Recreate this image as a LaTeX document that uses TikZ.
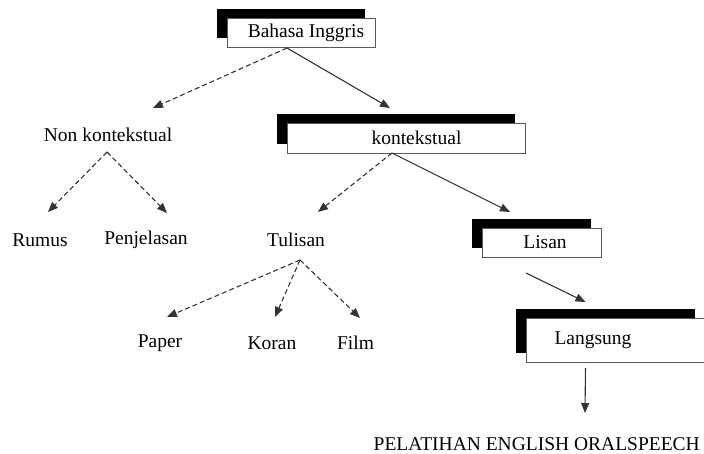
\documentclass[tikz,border=0pt]{standalone}
\usepackage{fontspec}
\setmainfont{Liberation Serif}
\usetikzlibrary{arrows.meta,shadows}

\begin{document}
\begin{tikzpicture}[x=1pt, y=-1pt,
    lbl/.style = {font=\fontsize{19.5}{23}\selectfont, inner sep=2pt},
    shbox/.style = {lbl, draw=black!65, line width=0.8pt, fill=white, inner sep=0pt,
        general shadow={shadow xshift=-10pt, shadow yshift=9pt, fill=black}},
    dasharrow/.style = {draw=black!80, line width=1.1pt, dash pattern=on 5pt off 3pt,
        -{Triangle[length=10pt,width=8pt]}},
    solidarrow/.style = {draw=black!80, line width=1.1pt,
        -{Triangle[length=10pt,width=8pt]}}]
    \useasboundingbox (0,0) rectangle (704,454);
    % boxes with black shadow
    \node[shbox, minimum width=148pt, minimum height=29pt] (bahasa) at (301,32.5) {\hspace*{10pt}Bahasa Inggris};
    \node[shbox, minimum width=238pt, minimum height=30pt] (kontek) at (406,138) {\hspace*{21pt}kontekstual};
    \node[shbox, minimum width=119pt, minimum height=29pt] (lisan) at (541.5,242.5) {\hspace*{7pt}Lisan};
    \node[shbox, minimum width=179pt, minimum height=44pt] (langsung) at (615.5,340) {Langsung\hspace*{45pt}};
    % plain labels
    \node[lbl] (nonkon) at (108,135) {Non kontekstual};
    \node[lbl] (rumus) at (40,240) {Rumus};
    \node[lbl] (penjelasan) at (146,240) {Penjelasan};
    \node[lbl] (tulisan) at (296,240) {Tulisan};
    \node[lbl] (paper) at (160,343) {Paper};
    \node[lbl] (koran) at (272,343) {Koran};
    \node[lbl] (film) at (355.5,343) {Film};
    \node[lbl, inner sep=0pt, anchor=base east] (pelatihan) at (700,450.5) {PELATIHAN ENGLISH ORALSPEECH};
    % connectors
    \draw[dasharrow] ([shift={(-14,15.5)}]bahasa.center) -- ([shift={(45,-27)}]nonkon.center);
    \draw[solidarrow] ([shift={(-14,15.5)}]bahasa.center) -- ([shift={(-16,-30)}]kontek.center);
    \draw[dasharrow] ([shift={(-1,17)}]nonkon.center) -- ([shift={(8,-28)}]rumus.center);
    \draw[dasharrow] ([shift={(-1,17)}]nonkon.center) -- ([shift={(21,-27)}]penjelasan.center);
    \draw[dasharrow] ([shift={(-14,15)}]kontek.center) -- ([shift={(22,-28)}]tulisan.center);
    \draw[solidarrow] ([shift={(-14,15)}]kontek.center) -- ([shift={(-31.5,-30.5)}]lisan.center);
    \draw[dasharrow] ([shift={(4,20)}]tulisan.center) -- ([shift={(7,-26)}]paper.center);
    \draw[dasharrow] ([shift={(4,20)}]tulisan.center) -- ([shift={(3,-26)}]koran.center);
    \draw[dasharrow] ([shift={(4,20)}]tulisan.center) -- ([shift={(4.5,-25)}]film.center);
    \draw[solidarrow] ([shift={(-15.5,30.5)}]lisan.center) -- ([shift={(-30,-38)}]langsung.center);
    \draw[solidarrow] ([shift={(-30,28)}]langsung.center) -- ([shift={(-115,-37.5)}]pelatihan.base east);
\end{tikzpicture}
\end{document}
